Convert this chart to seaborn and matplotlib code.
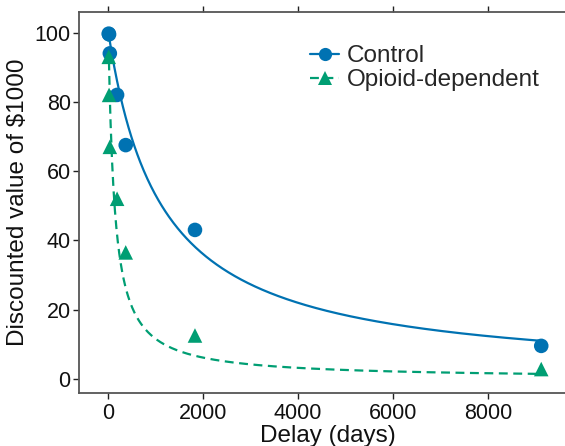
import numpy as np
import pandas as pd
import matplotlib
matplotlib.use("Agg")
import matplotlib.pyplot as plt
from matplotlib.lines import Line2D
import seaborn as sns

# Data
delays = [7, 14, 30, 183, 365, 1825, 9125]
control_values = [99.7, 99.5, 94, 82, 67.5, 43, 9.5]
opioid_values = [93, 82, 67, 52, 36.5, 12.5, 2.8]
groups = ["Control", "Opioid-dependent"]
# fitted hyperbolic discount rates (V = 100 / (1 + k*D))
k_control = 0.00089
k_opioid = 0.0077

xticks = [0, 2000, 4000, 6000, 8000]
yticks = [0, 20, 40, 60, 80, 100]

blue = "#0072B2"
green = "#009E73"

sns.set_theme(style="white")
plt.rcParams["font.family"] = ["Liberation Sans", "DejaVu Sans"]

pts = pd.DataFrame({
    "delay": delays * 2,
    "value": control_values + opioid_values,
    "group": [groups[0]] * len(delays) + [groups[1]] * len(delays),
})
grid = np.linspace(0, max(delays), 600)
curves = pd.DataFrame({
    "delay": np.concatenate([grid, grid]),
    "value": np.concatenate([100 / (1 + k_control * grid), 100 / (1 + k_opioid * grid)]),
    "group": [groups[0]] * len(grid) + [groups[1]] * len(grid),
})

fig = plt.figure(figsize=(5.65, 4.46), dpi=100)
ax = fig.add_axes([79 / 565, (446 - 393.3) / 446, 1 - 79 / 565 + 0.02, (393.3 - 11.5) / 446])

palette = {groups[0]: blue, groups[1]: green}
sns.lineplot(data=curves, x="delay", y="value", hue="group", style="group",
             palette=palette, dashes={groups[0]: "", groups[1]: (4, 2.5)},
             linewidth=1.6, legend=False, ax=ax)
sns.scatterplot(data=pts, x="delay", y="value", hue="group", style="group",
                markers={groups[0]: "o", groups[1]: "^"}, palette=palette,
                s=110, linewidth=0, legend=False, ax=ax, zorder=3)

ax.set_xlim(-620, 9633 + 9633 * 0.02 * 1.2)
ax.set_ylim(-4.2, 106.1)
ax.set_xticks(xticks)
ax.set_yticks(yticks)
ax.set_xlabel("Delay (days)", fontsize=17.5, labelpad=1, color="#111111")
ax.set_ylabel("Discounted value of $1000", fontsize=17.5, labelpad=4, color="#111111")
ax.tick_params(axis="both", labelsize=15.5, direction="out", length=4, width=1,
               color="#222222", labelcolor="#111111", bottom=True, left=True)
ax.tick_params(axis="x", top=True, pad=3)
ax.tick_params(axis="y", pad=2)
for side in ["left", "bottom", "top"]:
    ax.spines[side].set_color("#555555")
    ax.spines[side].set_linewidth(1.3)
ax.spines["right"].set_visible(False)

handles = [
    Line2D([0], [0], color=blue, lw=1.6, marker="o", markersize=9.5, markeredgewidth=0),
    Line2D([0], [0], color=green, lw=1.6, ls=(0, (4, 2.5)), marker="^", markersize=10.5, markeredgewidth=0),
]
ax.legend(handles, groups, loc="upper left", bbox_to_anchor=(310 / 565, (446 - 45) / 446),
          bbox_transform=fig.transFigure, frameon=False, fontsize=17.5,
          handlelength=1.2, handletextpad=0.3, labelspacing=0.1, borderpad=0, borderaxespad=0)

fig.savefig("out.png", dpi=100)
